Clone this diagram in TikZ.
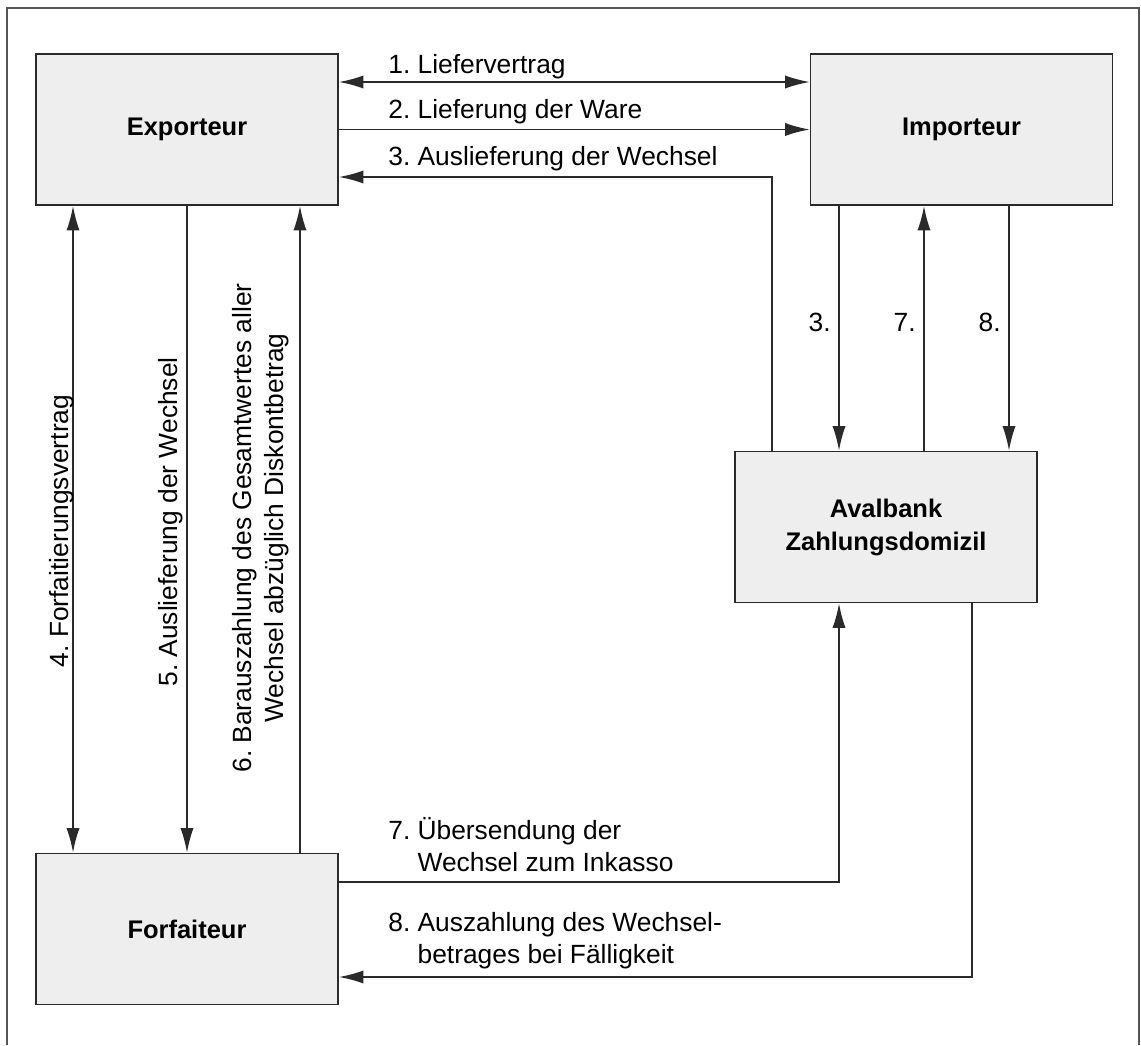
\documentclass[tikz,border=0pt]{standalone}
\usepackage{fontspec}
\setmainfont{Liberation Sans}
\usepackage{tikz}
\usetikzlibrary{arrows.meta}
\frenchspacing
\definecolor{boxgray}{HTML}{EEEEEE}
\definecolor{linegray}{HTML}{2A2A2A}
\definecolor{framegray}{HTML}{555555}
\tikzset{
    block/.style={
        draw = linegray, fill = boxgray,
        line width = 1pt,
        minimum width = 6.04cm,
        minimum height = 3.02cm,
        inner sep = 0pt,
        align = center,
        font = \fontsize{14.5}{18.8}\selectfont\bfseries
    },
    txt/.style = {inner sep = 0pt, font = \fontsize{15}{18.2}\selectfont},
    line/.style = {draw = linegray, line width = 0.9pt, -{Latex[length=14pt,width=7.5pt]}},
    both/.style = {line, {Latex[length=14pt,width=7.5pt]}-{Latex[length=14pt,width=7.5pt]}}
}

\begin{document}
\begin{tikzpicture}[x=0.02cm, y=-0.02cm]

    \useasboundingbox (0,0) rectangle (1141,1045);

    % Frame
    \draw[framegray, line width = 1pt] (7,1045) -- (7,8) -- (1139,8) -- (1139,1045);

    % Boxes
    \node[block] (exp) at (187,129.5) {Exporteur};
    \node[block] (imp) at (961.5,129.5) {Importeur};
    \node[block] (ava) at (886,527) {Avalbank\\Zahlungsdomizil};
    \node[block] (for) at (187,929) {Forfaiteur};

    % Exporteur - Importeur
    \draw[both] ([yshift=0.95cm]exp.east) -- ([yshift=0.95cm]imp.west);
    \draw[line] (exp.east) -- (imp.west);
    \draw[line] ([xshift=0.76cm]ava.north west) |- ([yshift=-0.95cm]exp.east);

    % Importeur - Avalbank
    \draw[line] ([xshift=-0.94cm]ava.north |- imp.south) -- ([xshift=-0.94cm]ava.north);
    \draw[line] ([xshift=0.76cm]ava.north) -- ([xshift=0.76cm]ava.north |- imp.south);
    \draw[line] ([xshift=2.46cm]ava.north |- imp.south) -- ([xshift=2.46cm]ava.north);

    % Exporteur - Forfaiteur
    \draw[both] ([xshift=-2.28cm]exp.south) -- ([xshift=-2.28cm]for.north);
    \draw[line] (exp.south) -- (for.north);
    \draw[line] ([xshift=2.26cm]for.north) -- ([xshift=2.26cm]exp.south);

    % Forfaiteur - Avalbank
    \draw[line] ([yshift=0.94cm]for.east) -| ([xshift=-0.94cm]ava.south);
    \draw[line] ([xshift=1.72cm]ava.south) |- ([yshift=-0.96cm]for.east);

    % Labels
    \node[txt, anchor=base west] (l1) at (388,73) {1. Liefervertrag};
    \node[txt, anchor=base west] (l2) at (388,118) {2. Lieferung der Ware};
    \node[txt, anchor=base west] (l3) at (388,165) {3. Auslieferung der Wechsel};

    \node[txt, anchor=east] (n3) at (831,322) {3.};
    \node[txt, anchor=east] (n7) at (916,322) {7.};
    \node[txt, anchor=east] (n8) at (1001,322) {8.};

    \node[txt, anchor=base, rotate=90] (l4) at (68,531) {4. Forfaitierungsvertrag};
    \node[txt, anchor=base, rotate=90] (l5) at (177,522) {5. Auslieferung der Wechsel};
    \node[txt, align=center, rotate=90] (l6) at (261,528)
        {6. Barauszahlung des Gesamtwertes aller\\Wechsel abzüglich Diskontbetrag};

    \node[txt, anchor=west, align=left] (l7) at (388,845)
        {7.~Übersendung der\\\phantom{7.~}Wechsel zum Inkasso};
    \node[txt, anchor=west, align=left] (l8) at (388,941)
        {8.~Auszahlung des Wechsel-\\\phantom{8.~}betrages bei Fälligkeit};

\end{tikzpicture}
\end{document}
